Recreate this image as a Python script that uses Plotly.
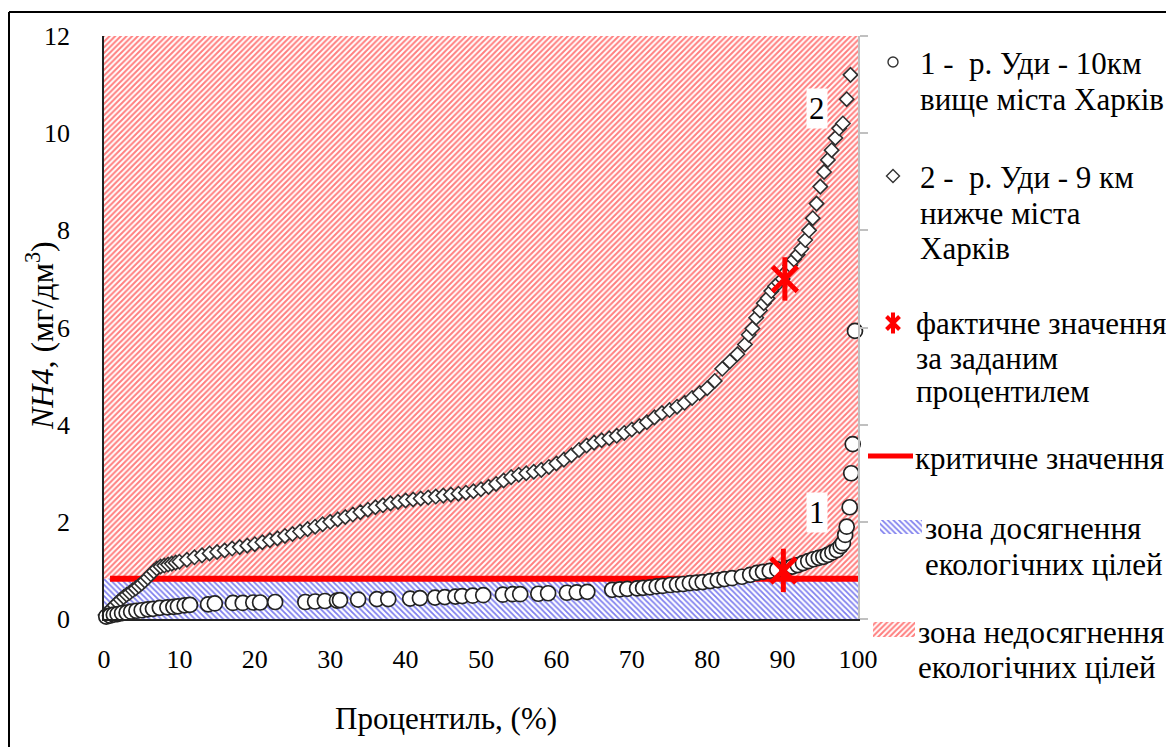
import plotly.graph_objects as go

W, H = 1174, 747
OFF = 8  # page body margin in the browser

# ---------------- data ----------------
# Curve 1: р. Уди - 10 км вище міста Харків (percentile %, NH4 mg/dm3)
PCT_1 = [0.3, 0.8, 1.3, 1.8, 2.4, 3.0, 3.6, 4.3, 5.0, 5.8, 6.5, 7.4, 8.4, 9.2, 9.8,
         10.7, 11.4, 13.8, 14.7, 17.1, 18.4, 19.8, 20.7, 22.7, 26.7, 28.0, 29.3,
         30.9, 31.3, 33.7, 36.2, 37.7, 40.6, 41.9, 43.9, 45.2, 46.6, 47.5, 48.9,
         50.3, 52.9, 54.2, 55.2, 57.6, 58.9, 61.4, 62.7, 64.1, 67.4, 68.4, 69.4,
         70.7, 71.5, 72.4, 73.3, 74.1, 75.1, 76.0, 76.8, 77.7, 78.6, 79.4, 80.4,
         81.4, 82.3, 83.3, 84.6, 85.7, 86.6, 87.4, 88.3, 89.3, 90.6, 91.3, 92.0,
         92.7, 93.4, 94.1, 94.8, 95.4, 96.0, 96.6, 97.2, 97.7, 98.0, 98.3, 98.5,
         98.9, 99.1, 99.3, 99.6]
NH4_1 = [0.05, 0.07, 0.09, 0.10, 0.12, 0.13, 0.15, 0.17, 0.18, 0.20, 0.21, 0.23, 0.24, 0.25, 0.26,
         0.28, 0.29, 0.30, 0.32, 0.33, 0.33, 0.34, 0.34, 0.35, 0.35, 0.36, 0.37,
         0.38, 0.39, 0.40, 0.41, 0.41, 0.42, 0.43, 0.44, 0.45, 0.46, 0.47, 0.48,
         0.49, 0.50, 0.51, 0.51, 0.52, 0.53, 0.54, 0.55, 0.56, 0.60, 0.61, 0.62,
         0.63, 0.64, 0.65, 0.67, 0.68, 0.70, 0.71, 0.72, 0.74, 0.75, 0.76, 0.78,
         0.80, 0.82, 0.84, 0.87, 0.91, 0.95, 0.97, 0.99, 1.02, 1.05, 1.08, 1.11,
         1.15, 1.19, 1.23, 1.26, 1.28, 1.32, 1.37, 1.42, 1.50, 1.56, 1.73, 1.90,
         2.30, 3.00, 3.60, 5.93]

# Curve 2: р. Уди - 9 км нижче міста Харків
PCT_2 = [0.2, 0.6, 1.0, 1.4, 1.8, 2.2, 2.6, 3.0, 3.4, 3.8, 4.2, 4.6, 5.0, 5.4, 5.8,
         6.2, 6.6, 7.0, 7.5, 8.0, 8.5, 9.0, 9.5, 10, 11, 12, 13, 14, 15, 16, 17,
         18, 19, 20, 21, 22, 23, 24, 25, 26, 27, 28, 29, 30, 31, 32, 33, 34, 35,
         36, 37, 38, 39, 40, 41, 42, 43, 44, 45, 46, 47, 48, 49, 50, 51, 52, 53,
         54, 55, 56, 57, 58, 59, 60, 61, 62, 63, 64, 65, 66, 67, 68, 69, 70, 71,
         72, 73, 74, 75, 76, 77, 78, 79, 80, 81, 82, 83, 84, 85, 85.5, 86, 86.5,
         87, 87.5, 88, 88.5, 89, 89.5, 90, 90.5, 91, 91.5, 92, 92.5, 93, 93.5,
         94, 94.5, 95, 95.5, 96, 96.5, 97, 97.5, 98, 98.5, 99]
NH4_2 = [0.08, 0.15, 0.22, 0.28, 0.34, 0.40, 0.45, 0.50, 0.54, 0.59, 0.63, 0.68, 0.73, 0.79, 0.85,
         0.92, 0.98, 1.04, 1.08, 1.10, 1.12, 1.14, 1.16, 1.18, 1.22, 1.27, 1.31, 1.35, 1.38, 1.41, 1.45,
         1.48, 1.51, 1.54, 1.58, 1.62, 1.66, 1.71, 1.75, 1.80, 1.85, 1.90, 1.95, 2.00, 2.05, 2.10, 2.15, 2.20, 2.25,
         2.30, 2.34, 2.38, 2.41, 2.44, 2.46, 2.48, 2.50, 2.52, 2.54, 2.56, 2.58, 2.60, 2.63, 2.67, 2.72, 2.78, 2.85,
         2.92, 2.97, 3.00, 3.03, 3.07, 3.13, 3.20, 3.28, 3.37, 3.48, 3.57, 3.63, 3.68, 3.72, 3.77, 3.83, 3.90, 3.97,
         4.05, 4.15, 4.24, 4.30, 4.37, 4.45, 4.55, 4.65, 4.75, 4.90, 5.15, 5.30, 5.45, 5.65, 5.85, 5.98, 6.20,
         6.35, 6.50, 6.60, 6.75, 6.85, 6.92, 7.00, 7.15, 7.28, 7.40, 7.50, 7.62, 7.80, 8.00,
         8.25, 8.55, 8.90, 9.20, 9.45, 9.65, 9.90, 10.10, 10.20, 10.70, 11.20]

# Actual values at the given percentile
FACT_PCT = [90.3, 90.1]
FACT_VAL = [7.0, 1.0]

# Critical value and axis extent
CRIT = 0.83
CRIT_PCT = [0.8, 100]
X_RANGE = [0, 100]
Y_RANGE = [0, 12]
X_TICKS = [0, 10, 20, 30, 40, 50, 60, 70, 80, 90, 100]
Y_TICKS = [0, 2, 4, 6, 8, 10, 12]

LEGEND_1 = ["1 -  р. Уди - 10км", "вище міста Харків"]
LEGEND_2 = ["2 -  р. Уди - 9 км", "нижче міста", "Харків"]
LEGEND_3 = ["фактичне значення", "за заданим", "процентилем"]
LEGEND_4 = ["критичне значення"]
LEGEND_5 = ["зона досягнення", "екологічних цілей"]
LEGEND_6 = ["зона недосягнення", "екологічних цілей"]

Y_TITLE = "<i>NH4</i>, (мг/дм<sup>3</sup>)"
X_TITLE = "Процентиль, (%)"

FONT = "Liberation Serif"
TICK_SIZE = 26
TEXT_SIZE = 31

RED = "#ff0000"
HATCH_RED = "#ff0000"
HATCH_BLUE = "#0000dd"

# plot area in screen pixels
PL, PR, PT, PB = 104, 858, 36, 619


def px(x):
    return (x - OFF) / W


def py(y):
    return 1 - (y - OFF) / H


fig = go.Figure()

# zones
fig.add_trace(go.Scatter(
    x=[X_RANGE[0], X_RANGE[1], X_RANGE[1], X_RANGE[0], X_RANGE[0]],
    y=[CRIT, CRIT, Y_RANGE[1], Y_RANGE[1], CRIT],
    mode="lines", fill="toself", line=dict(width=0),
    fillcolor="white",
    fillpattern=dict(shape="/", fgcolor=HATCH_RED, bgcolor="white", size=4, solidity=0.5),
    hoverinfo="skip", showlegend=False))
fig.add_trace(go.Scatter(
    x=[X_RANGE[0], X_RANGE[1], X_RANGE[1], X_RANGE[0], X_RANGE[0]],
    y=[Y_RANGE[0], Y_RANGE[0], CRIT, CRIT, Y_RANGE[0]],
    mode="lines", fill="toself", line=dict(width=0),
    fillcolor="white",
    fillpattern=dict(shape="\\", fgcolor=HATCH_BLUE, bgcolor="white", size=4, solidity=0.45),
    hoverinfo="skip", showlegend=False))

# critical line
fig.add_trace(go.Scatter(x=CRIT_PCT, y=[CRIT, CRIT], mode="lines",
                         line=dict(color=RED, width=6), showlegend=False))

# curve 2 diamonds
fig.add_trace(go.Scatter(x=PCT_2, y=NH4_2, mode="markers", cliponaxis=False,
                         marker=dict(symbol="diamond", size=11, color="white",
                                     line=dict(color="#2e2e2e", width=1.6)),
                         showlegend=False))
# curve 1 circles
fig.add_trace(go.Scatter(x=PCT_1, y=NH4_1, mode="markers", cliponaxis=False,
                         marker=dict(symbol="circle", size=15, color="white",
                                     line=dict(color="#222222", width=1.7)),
                         showlegend=False))

# actual values (asterisks)
fig.add_trace(go.Scatter(x=FACT_PCT, y=FACT_VAL, mode="markers", cliponaxis=False,
                         marker=dict(symbol="x-thin-open", size=25, color=RED,
                                     line=dict(color=RED, width=5)),
                         showlegend=False))
fig.add_trace(go.Scatter(x=FACT_PCT, y=FACT_VAL, mode="markers", cliponaxis=False,
                         marker=dict(symbol="line-ns-open", size=31, color=RED,
                                     line=dict(color=RED, width=5)),
                         showlegend=False))

# dummy trace for right axis
fig.add_trace(go.Scatter(x=[0], y=[0], yaxis="y2", mode="markers",
                         marker=dict(size=1, opacity=0), hoverinfo="skip", showlegend=False))

# ---------- custom legend (screen-pixel axes) ----------
LX = "x3"
LY = "y3"
fig.add_trace(go.Scatter(x=[893], y=[62], xaxis=LX, yaxis=LY, mode="markers",
                         marker=dict(symbol="circle", size=10, color="white",
                                     line=dict(color="#333", width=1.4)), showlegend=False))
fig.add_trace(go.Scatter(x=[893], y=[176], xaxis=LX, yaxis=LY, mode="markers",
                         marker=dict(symbol="diamond", size=10, color="white",
                                     line=dict(color="#333", width=1.4)), showlegend=False))
fig.add_trace(go.Scatter(x=[893], y=[323], xaxis=LX, yaxis=LY, mode="markers",
                         marker=dict(symbol="x-thin-open", size=13, color=RED,
                                     line=dict(color=RED, width=4)), showlegend=False))
fig.add_trace(go.Scatter(x=[893], y=[323], xaxis=LX, yaxis=LY, mode="markers",
                         marker=dict(symbol="line-ns-open", size=15, color=RED,
                                     line=dict(color=RED, width=4)), showlegend=False))
fig.add_trace(go.Scatter(x=[868, 913], y=[456, 456], xaxis=LX, yaxis=LY, mode="lines",
                         line=dict(color=RED, width=5), showlegend=False))
fig.add_trace(go.Scatter(x=[880, 922, 922, 880, 880], y=[520, 520, 534, 534, 520],
                         xaxis=LX, yaxis=LY, mode="lines", fill="toself",
                         line=dict(width=0), fillcolor="white",
                         fillpattern=dict(shape="\\", fgcolor=HATCH_BLUE, bgcolor="white",
                                          size=4, solidity=0.45),
                         showlegend=False))
fig.add_trace(go.Scatter(x=[873, 915, 915, 873, 873], y=[622, 622, 637, 637, 622],
                         xaxis=LX, yaxis=LY, mode="lines", fill="toself",
                         line=dict(width=0), fillcolor="white",
                         fillpattern=dict(shape="/", fgcolor=HATCH_RED, bgcolor="white",
                                          size=4, solidity=0.5),
                         showlegend=False))

annotations = []


def add_lines(lines, x0, ys):
    for t, yy in zip(lines, ys):
        annotations.append(dict(text=t, x=px(x0), y=py(yy), xref="paper", yref="paper",
                                xanchor="left", yanchor="middle", showarrow=False,
                                font=dict(family=FONT, size=TEXT_SIZE, color="black")))


add_lines(LEGEND_1, 918, [63, 100])
add_lines(LEGEND_2, 918, [178, 213, 248])
add_lines(LEGEND_3, 914, [323, 358, 391])
add_lines(LEGEND_4, 913, [458])
add_lines(LEGEND_5, 923, [528, 564])
add_lines(LEGEND_6, 916, [632, 667])

# curve labels
annotations.append(dict(text="2", x=94.6, y=10.5, xref="x", yref="y", showarrow=False,
                        bgcolor="white", borderpad=2,
                        font=dict(family=FONT, size=TEXT_SIZE, color="black")))
annotations.append(dict(text="1", x=94.6, y=2.2, xref="x", yref="y", showarrow=False,
                        bgcolor="white", borderpad=2,
                        font=dict(family=FONT, size=TEXT_SIZE, color="black")))

# axis titles
annotations.append(dict(text=Y_TITLE, x=px(40), y=py(336), xref="paper", yref="paper",
                        textangle=-90, showarrow=False, xanchor="center", yanchor="middle",
                        font=dict(family=FONT, size=32, color="black")))
annotations.append(dict(text=X_TITLE, x=px(446), y=py(718), xref="paper", yref="paper",
                        showarrow=False, xanchor="center", yanchor="middle",
                        font=dict(family=FONT, size=TEXT_SIZE, color="black")))

shapes = [
    dict(type="line", xref="paper", yref="paper", x0=px(9), x1=px(9), y0=py(12), y1=py(770),
         line=dict(color="black", width=2)),
    dict(type="line", xref="paper", yref="paper", x0=px(9), x1=px(1173), y0=py(12), y1=py(12),
         line=dict(color="black", width=2)),
    dict(type="line", xref="paper", yref="paper", x0=px(1173), x1=px(1173), y0=py(12), y1=py(770),
         line=dict(color="#c8c8c8", width=1.5)),
]

tickfont = dict(family=FONT, size=TICK_SIZE, color="black")

fig.update_layout(
    width=W, height=H, autosize=False,
    margin=dict(l=0, r=0, t=0, b=0, pad=0, autoexpand=False),
    paper_bgcolor="white", plot_bgcolor="rgba(0,0,0,0)",
    showlegend=False,
    xaxis=dict(domain=[px(PL), px(PR)], range=X_RANGE, tickvals=X_TICKS,
               showline=True, linecolor="#222", linewidth=1.5, ticks="",
               showgrid=False, zeroline=False, tickfont=tickfont, automargin=False,
               ticklabelstandoff=16, anchor="y"),
    yaxis=dict(domain=[py(PB), py(PT)], range=Y_RANGE, tickvals=Y_TICKS,
               showline=True, linecolor="#222", linewidth=1.5, ticks="",
               showgrid=False, zeroline=False, tickfont=tickfont, automargin=False,
               ticklabelstandoff=27, anchor="x"),
    yaxis2=dict(overlaying="y", side="right", anchor="x", range=Y_RANGE, tickvals=Y_TICKS,
                showline=True, linecolor="#c0c0c0", linewidth=1.5, ticks="outside",
                ticklen=8, tickcolor="#c0c0c0", tickwidth=1.5, showticklabels=False,
                showgrid=False, zeroline=False, automargin=False),
    xaxis3=dict(domain=[0, 1], range=[OFF, W + OFF], visible=False, anchor="y3",
                fixedrange=True, automargin=False),
    yaxis3=dict(domain=[0, 1], range=[H + OFF, OFF], visible=False, anchor="x3",
                fixedrange=True, automargin=False),
    annotations=annotations,
    shapes=shapes,
)

fig.write_html("out.html")
